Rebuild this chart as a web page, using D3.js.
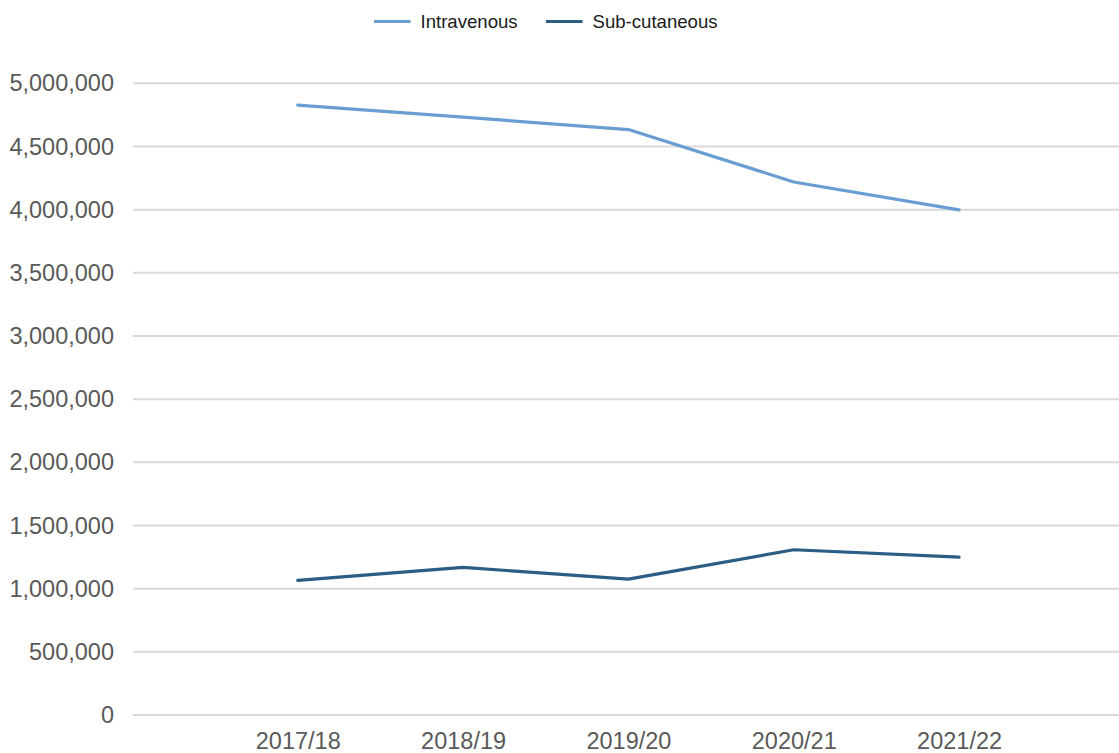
<!DOCTYPE html>
<html>
<head>
<meta charset="utf-8">
<script src="https://cdn.jsdelivr.net/npm/d3@7"></script>
<style>
  html, body { margin: 0; padding: 0; background: #fff; }
  svg { display: block; font-family: "Liberation Sans", Arial, sans-serif; }
</style>
</head>
<body>
<svg id="chart" width="1119" height="753"></svg>
<script>
const categories = ["2017/18", "2018/19", "2019/20", "2020/21", "2021/22"];
const intravenous = [4828000, 4732000, 4634000, 4219000, 3998000];
const subcutaneous = [1066000, 1168000, 1076000, 1308000, 1250000];
const seriesNames = ["Intravenous", "Sub-cutaneous"];
const seriesColors = ["#6a9ed3", "#2c5d85"];
const yTicks = [0, 500000, 1000000, 1500000, 2000000, 2500000, 3000000, 3500000, 4000000, 4500000, 5000000];

(function () {
const svg = d3.select("#chart");
const plotLeft = 133, plotRight = 1119, plotTop = 83.3, plotBottom = 715;

const x = d3.scalePoint().domain(categories).range([132.4, 1124.4]).padding(1);
const y = d3.scaleLinear().domain([0, 5000000]).range([plotBottom, plotTop]);

// gridlines
svg.append("g").selectAll("line").data(yTicks).join("line")
  .attr("x1", plotLeft).attr("x2", plotRight)
  .attr("y1", d => y(d)).attr("y2", d => y(d))
  .attr("stroke", "#d9d9d9").attr("stroke-width", 2);

// y axis
const yAxis = d3.axisLeft(y).tickValues(yTicks).tickFormat(d3.format(",")).tickSize(0).tickPadding(19);
const gy = svg.append("g").attr("transform", `translate(${plotLeft},0)`).call(yAxis);
gy.select(".domain").remove();
gy.selectAll("text").attr("fill", "#595959").style("font-size", "23.5px")
  .style("font-family", "'Liberation Sans', Arial, sans-serif");

// x axis
const xAxis = d3.axisBottom(x).tickSize(0).tickPadding(17);
const gx = svg.append("g").attr("transform", `translate(0,${plotBottom})`).call(xAxis);
gx.select(".domain").remove();
gx.selectAll("text").attr("fill", "#595959").style("font-size", "23.5px")
  .style("font-family", "'Liberation Sans', Arial, sans-serif");

// lines
const data = [intravenous, subcutaneous];
const line = d3.line().x((d, i) => x(categories[i])).y(d => y(d));
svg.append("g").selectAll("path").data(data).join("path")
  .attr("d", d => line(d))
  .attr("fill", "none")
  .attr("stroke", (d, i) => seriesColors[i])
  .attr("stroke-width", 3.2)
  .attr("stroke-linejoin", "round")
  .attr("stroke-linecap", "round");

// legend
const legendX = [374, 546];
const lg = svg.append("g").selectAll("g").data(seriesNames).join("g")
  .attr("transform", (d, i) => `translate(${legendX[i]},21.5)`);
lg.append("line").attr("x1", 0).attr("x2", 36.5).attr("y1", 0).attr("y2", 0)
  .attr("stroke", (d, i) => seriesColors[i]).attr("stroke-width", 3.2);
lg.append("text").attr("x", 46.5).attr("y", 0).attr("dy", "0.35em")
  .attr("fill", "#1a1a1a").style("font-size", "18.6px").text(d => d);
})();
</script>
</body>
</html>
